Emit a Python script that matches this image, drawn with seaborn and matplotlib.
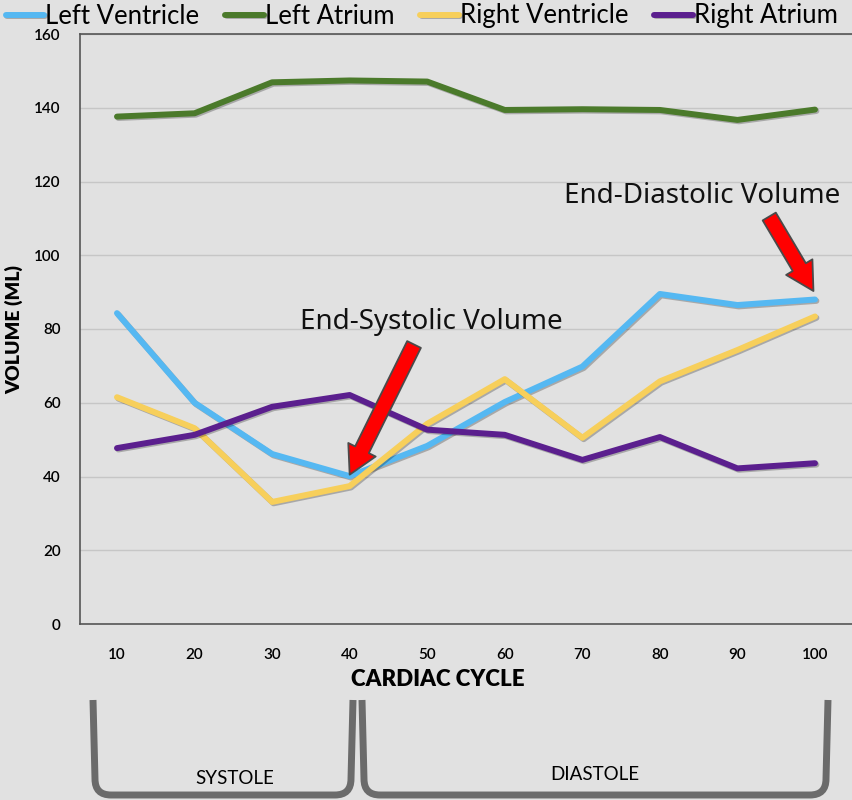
import numpy as np
import pandas as pd
import seaborn as sns
import matplotlib.pyplot as plt
from matplotlib.path import Path
from matplotlib.patches import PathPatch
import matplotlib.patheffects as pe

# values
cycle = [10, 20, 30, 40, 50, 60, 70, 80, 90, 100]
left_ventricle = [84.3, 60.0, 46.1, 40.1, 48.3, 60.2, 69.8, 89.5, 86.5, 88.0]
left_atrium = [137.6, 138.5, 146.9, 147.4, 147.1, 139.4, 139.6, 139.4, 136.7, 139.5]
right_ventricle = [61.5, 53.1, 33.1, 37.4, 54.3, 66.4, 50.5, 65.8, 74.3, 83.4]
right_atrium = [47.7, 51.3, 58.9, 62.1, 52.7, 51.3, 44.5, 50.7, 42.2, 43.6]

chambers = ["Left Ventricle", "Left Atrium", "Right Ventricle", "Right Atrium"]
colors = ["#55b8f2", "#4b7a2b", "#f7cf5b", "#5b1f8e"]

df = pd.DataFrame({
    "cycle": cycle * 4,
    "volume": left_ventricle + left_atrium + right_ventricle + right_atrium,
    "chamber": np.repeat(chambers, len(cycle)),
})

bg = "#e1e1e1"
narrow = ["Lato", "DejaVu Sans"]

fig = plt.figure(figsize=(8.52, 8.0), dpi=100, facecolor=bg)
ax = fig.add_axes([80 / 852, 1 - 624 / 800, 772 / 852, 590 / 800])
ax.set_facecolor(bg)

sns.lineplot(data=df, x="cycle", y="volume", hue="chamber", hue_order=chambers,
             palette=dict(zip(chambers, colors)), linewidth=4.3, ax=ax,
             sort=False, solid_capstyle="round", solid_joinstyle="round")
for ln in ax.lines:
    ln.set_path_effects([pe.SimpleLineShadow(offset=(1, -1), alpha=0.25), pe.Normal()])

ax.set_xlim(5.23, 104.77)
ax.set_ylim(0, 160)
ax.set_yticks(range(0, 161, 20))
ax.set_xticks(cycle)
ax.grid(axis="y", color="#c6c6c6", linewidth=1)
ax.set_axisbelow(True)
ax.tick_params(length=0)
ax.tick_params(axis="y", pad=14)
ax.tick_params(axis="x", pad=17)
for lab in ax.get_yticklabels() + ax.get_xticklabels():
    lab.set_family(narrow)
    lab.set_fontsize(11)
    lab.set_fontweight("semibold")
for s in ["left", "bottom", "top"]:
    ax.spines[s].set_color("#555555")
    ax.spines[s].set_linewidth(1.2)
ax.spines["right"].set_visible(False)

ax.set_xlabel("")
ax.set_ylabel("VOLUME (ML)", family=narrow, fontsize=14, fontweight="heavy", labelpad=8)
fig.text(438 / 852, 1 - 680 / 800, "CARDIAC CYCLE", family=narrow, fontsize=16,
         fontweight="heavy", ha="center", va="center")

# legend across the top
handles, labels = ax.get_legend_handles_labels()
ax.get_legend().remove()
fig.legend(handles, labels, loc="center", bbox_to_anchor=(0.495, 1 - 16 / 800), ncol=4,
           frameon=False, prop={"family": narrow, "size": 18.5}, handlelength=1.5,
           handletextpad=0.05, columnspacing=1.0)

# annotations with red arrows
arrow = dict(arrowstyle="simple,head_length=1.0,head_width=1.1,tail_width=0.55",
             fc="#ff0000", ec="#4a4a4a", lw=1.3, shrinkA=0, shrinkB=0, mutation_scale=20)
ax.annotate("", xy=(40, 40.5), xytext=(48.3, 75.8), arrowprops=arrow)
ax.annotate("", xy=(99.8, 90.3), xytext=(94.1, 110.5), arrowprops=arrow)
ax.text(50.5, 82.0, "End-Systolic Volume", fontsize=20, family="Noto Sans",
        ha="center", va="center", color="#111111")
ax.text(85.4, 116.0, "End-Diastolic Volume", fontsize=20, family="Noto Sans",
        ha="center", va="center", color="#111111")


# systole / diastole brackets below the chart
def bracket(x0, x1, y0, y1, r=16):
    W, H = 852, 800
    pts = [(x0, y0), (x0 + 2, y1 - r), (x0 + 2, y1), (x0 + 2 + r, y1),
           (x1 - 2 - r, y1), (x1 - 2, y1), (x1 - 2, y1 - r), (x1, y0)]
    codes = [Path.MOVETO, Path.LINETO, Path.CURVE3, Path.CURVE3,
             Path.LINETO, Path.CURVE3, Path.CURVE3, Path.LINETO]
    verts = [(x / W, 1 - y / H) for x, y in pts]
    fig.add_artist(PathPatch(Path(verts, codes), transform=fig.transFigure,
                             fill=False, ec="#6b6b6b", lw=5, capstyle="butt"))


bracket(93, 353, 700, 795)
bracket(362, 828, 700, 795)
fig.text(235 / 852, 1 - 778 / 800, "SYSTOLE", family=narrow, fontsize=13.5,
         ha="center", va="center")
fig.text(595 / 852, 1 - 775 / 800, "DIASTOLE", family=narrow, fontsize=13.5,
         ha="center", va="center")

fig.savefig("out.png", dpi=100, facecolor=bg)
